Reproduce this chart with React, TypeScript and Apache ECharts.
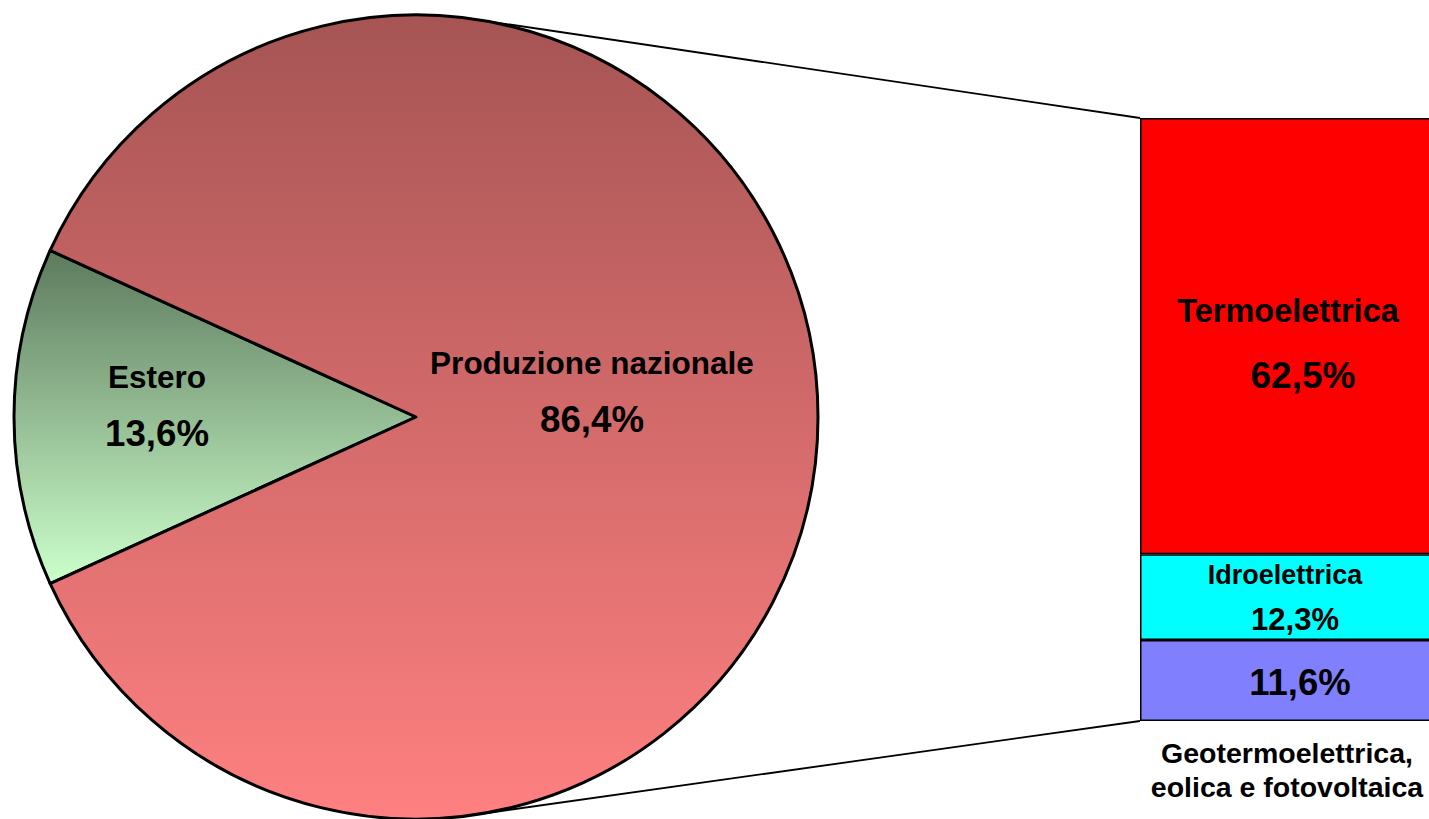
import React, { useEffect, useRef } from "react";
import * as echarts from "echarts";

// ---- data ----
const pieNames = ["Estero", "Produzione nazionale"];
const pieValues = [13.6, 86.4];
const barNames = ["Geotermoelettrica,\neolica e fotovoltaica", "Idroelettrica", "Termoelettrica"];
const barValues = [11.6, 12.3, 62.5];
const barCategory = ["Produzione nazionale"];

const FONT = "Arial, 'Liberation Sans', Helvetica, sans-serif";
const fmt = (v: number) => v.toFixed(1).replace(".", ",") + "%";

const PIE_CX = 416;
const PIE_CY = 417;
const PIE_R = 402;
const GRID_LEFT = 1140;
const GRID_TOP = 118;
const GRID_W = 310;
const GRID_H = 603;

export default function App() {
  const ref = useRef<HTMLDivElement>(null);

  useEffect(() => {
    if (!ref.current) return;
    const chart = echarts.init(ref.current, undefined, { renderer: "svg" });
    const pieTotal = pieValues.reduce((a, b) => a + b, 0);
    const barTotal = barValues.reduce((a, b) => a + b, 0);

    const pieColors = [
      new echarts.graphic.LinearGradient(0, 0, 0, 1, [
        { offset: 0, color: "#5D7A5D" },
        { offset: 1, color: "#CCFFCC" },
      ]),
      new echarts.graphic.LinearGradient(0, 0, 0, 1, [
        { offset: 0, color: "#A65454" },
        { offset: 1, color: "#FF8080" },
      ]),
    ];
    const pieLabelShift = [
      { dx: -27.5, dy: -6 },
      { dx: -14, dy: -13 },
    ];
    const barColors = ["#8080FF", "#00FFFF", "#FF0000"];

    const barLabel = (i: number) => {
      if (i === 0) {
        return {
          show: true,
          position: "inside",
          offset: [5, 2],
          formatter: (p: any) => `{v|${fmt(p.value)}}`,
          rich: { v: { fontSize: 36.5, fontWeight: "bold", fontFamily: FONT, color: "#000" } },
        };
      }
      if (i === 1) {
        return {
          show: true,
          position: "inside",
          formatter: (p: any) => `{n|${p.seriesName}}\n{v|${fmt(p.value)}}`,
          rich: {
            n: { fontSize: 27, fontWeight: "bold", fontFamily: FONT, color: "#000", lineHeight: 45, padding: [0, 20, 0, 0] },
            v: { fontSize: 31, fontWeight: "bold", fontFamily: FONT, color: "#000", lineHeight: 45 },
          },
        };
      }
      return {
        show: true,
        position: "inside",
        offset: [0, 7],
        formatter: (p: any) => `{n|${p.seriesName}}\n{v|${fmt(p.value)}}`,
        rich: {
          n: { fontSize: 32.5, fontWeight: "bold", fontFamily: FONT, color: "#000", lineHeight: 64, padding: [0, 14, 0, 0] },
          v: { fontSize: 37, fontWeight: "bold", fontFamily: FONT, color: "#000", lineHeight: 64, padding: [0, 0, 0, 16] },
        },
      };
    };

    chart.setOption({
      animation: false,
      backgroundColor: "#ffffff",
      grid: { left: GRID_LEFT, top: GRID_TOP, width: GRID_W, height: GRID_H },
      xAxis: { type: "category", data: barCategory, show: false },
      yAxis: { type: "value", min: 0, max: barTotal, show: false },
      series: [
        {
          type: "pie",
          center: [PIE_CX, PIE_CY],
          radius: PIE_R,
          startAngle: 180 + (pieValues[0] / pieTotal) * 180,
          clockwise: true,
          avoidLabelOverlap: false,
          silent: true,
          itemStyle: { borderColor: "#000", borderWidth: 3 },
          label: {
            show: true,
            position: "inside",
            color: "#000",
            formatter: (p: any) => `{n|${p.name}}\n{v|${fmt(p.value)}}`,
            rich: {
              n: { fontSize: 31.5, fontWeight: "bold", fontFamily: FONT, color: "#000", lineHeight: 56 },
              v: { fontSize: 36.7, fontWeight: "bold", fontFamily: FONT, color: "#000", lineHeight: 56 },
            },
          },
          labelLine: { show: false },
          labelLayout: (p: any) => pieLabelShift[p.dataIndex],
          emphasis: { disabled: true },
          data: pieNames.map((n, i) => ({ name: n, value: pieValues[i], itemStyle: { color: pieColors[i] } })),
        },
        ...barNames.map((n, i) => ({
          type: "bar",
          name: n,
          stack: "prod",
          barWidth: "100%",
          silent: true,
          data: [barValues[i]],
          itemStyle: { color: barColors[i], borderColor: "#000", borderWidth: 1.5 },
          label: barLabel(i),
          emphasis: { disabled: true },
        })),
      ],
    });

    // connectors and outside label, computed from the laid-out chart
    const yTop = chart.convertToPixel({ yAxisIndex: 0 }, barTotal) as number;
    const yBot = chart.convertToPixel({ yAxisIndex: 0 }, 0) as number;
    const xMid = chart.convertToPixel({ xAxisIndex: 0 }, 0) as number;

    const tangent = (px: number, py: number, upper: boolean) => {
      const dx = px - PIE_CX;
      const dy = py - PIE_CY;
      const d = Math.sqrt(dx * dx + dy * dy);
      const th = Math.atan2(dy, dx);
      const a = Math.acos(PIE_R / d);
      const c1 = [PIE_CX + PIE_R * Math.cos(th + a), PIE_CY + PIE_R * Math.sin(th + a)];
      const c2 = [PIE_CX + PIE_R * Math.cos(th - a), PIE_CY + PIE_R * Math.sin(th - a)];
      if (upper) return c1[1] < c2[1] ? c1 : c2;
      return c1[1] > c2[1] ? c1 : c2;
    };
    const t1 = tangent(GRID_LEFT, yTop, true);
    const t2 = tangent(GRID_LEFT, yBot, false);

    chart.setOption({
      graphic: [
        {
          type: "line",
          silent: true,
          shape: { x1: t1[0], y1: t1[1], x2: GRID_LEFT, y2: yTop },
          style: { stroke: "#000", lineWidth: 1.8 },
        },
        {
          type: "line",
          silent: true,
          shape: { x1: t2[0], y1: t2[1], x2: GRID_LEFT, y2: yBot },
          style: { stroke: "#000", lineWidth: 1.8 },
        },
        {
          type: "text",
          silent: true,
          x: xMid - 8,
          y: yBot + 15,
          style: {
            text: barNames[0],
            fontSize: 28.5,
            fontWeight: "bold",
            fontFamily: FONT,
            fill: "#000",
            textAlign: "center",
            textVerticalAlign: "top",
            align: "center",
            verticalAlign: "top",
            lineHeight: 34,
          },
        },
      ],
    });

    return () => chart.dispose();
  }, []);

  return (
    <div
      style={{ position: "absolute", left: 0, top: 0, width: 1429, height: 819, overflow: "hidden" }}
    >
      <div ref={ref} style={{ width: 1470, height: 819 }} />
    </div>
  );
}
